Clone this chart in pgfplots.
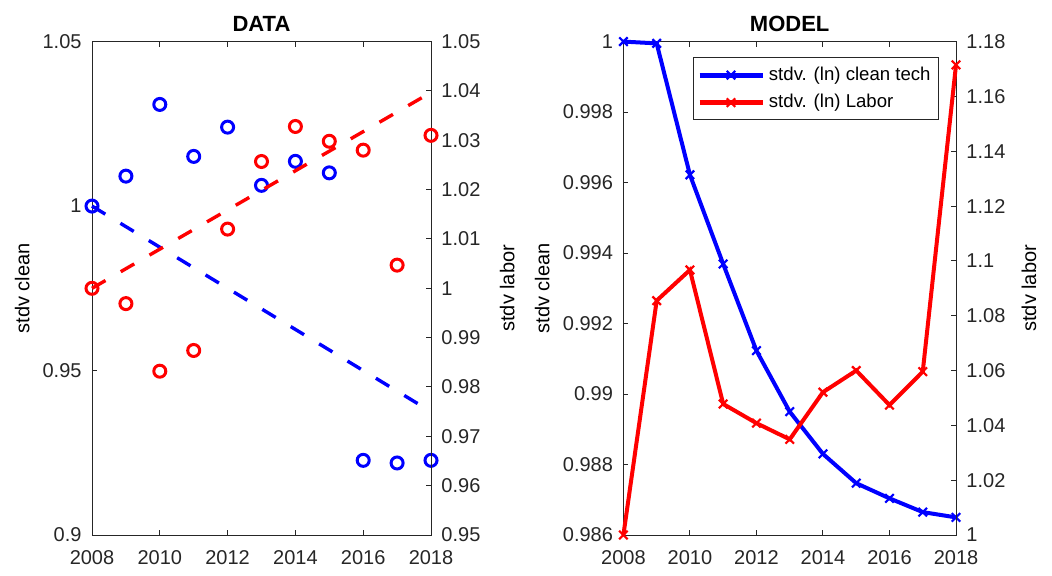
\documentclass[border=0pt]{standalone}
\usepackage{fontspec}
\setmainfont{Liberation Sans}
\usepackage{pgfplots}
\pgfplotsset{compat=1.18}
\definecolor{axgray}{gray}{0.15}
\pgfplotsset{
  base/.style={
    scale only axis, height=246.7pt, anchor=south west,
    xmin=2008, xmax=2018, xtick={2008,2010,2012,2014,2016,2018},
    xticklabels={2008,2010,2012,2014,2016,2018},
    tick align=inside, major tick length=2.5pt,
    axis line style={axgray, line width=0.5pt},
    every tick/.style={axgray, line width=0.5pt},
    tick label style={font=\fontsize{10}{12}\selectfont, text=axgray},
    xticklabel shift=4pt, yticklabel shift=1.7pt,
    /pgf/number format/assume math mode=true,
    label style={font=\fontsize{10}{12}\selectfont, text=black},
    scaled ticks=false, clip=false,
    every axis title shift=0pt,
    title style={at={(axis description cs:0.5,1)}, anchor=base, yshift=5pt,
      font=\bfseries\fontsize{11}{13}\selectfont},
  },
  circ/.style={only marks, mark=o, mark size=3pt, line width=1.5pt},
  dash/.style={no marks, line width=1.7pt, dash pattern=on 7.8pt off 8.8pt},
  xline/.style={line width=2pt, mark=x, mark size=3pt, mark options={line width=1.1pt, solid}},
}
\begin{document}
\begin{tikzpicture}
\path[use as bounding box] (0,0) rectangle (526pt,287.5pt);
% ---------- DATA panel ----------
\begin{axis}[base, at={(46pt,20pt)}, width=169.5pt,
  ymin=0.9, ymax=1.05, ytick={0.9,0.95,1,1.05}, yticklabels={0.9,0.95,1,1.05},
  ytick pos=left, xtick pos=both, title={DATA},
  ylabel={stdv clean},
  ylabel style={at={(axis description cs:0,0.5)}, anchor=south, yshift=27.7pt}]
\addplot[blue, circ] coordinates {
 (2008,1.0000) (2009,1.0091) (2010,1.0309) (2011,1.0151) (2012,1.0240)
 (2013,1.0063) (2014,1.0136) (2015,1.0101) (2016,0.9227) (2017,0.9219) (2018,0.9227)};
\addplot[blue, dash] coordinates {(2008,1.0) (2018,0.9375)};
\end{axis}
\begin{axis}[base, at={(46pt,20pt)}, width=169.5pt,
  axis x line=none, axis y line*=right,
  ymin=0.95, ymax=1.05,
  ytick={0.95,0.96,0.97,0.98,0.99,1,1.01,1.02,1.03,1.04,1.05},
  yticklabels={0.95,0.96,0.97,0.98,0.99,1,1.01,1.02,1.03,1.04,1.05},
  ylabel={stdv labor},
  ylabel style={at={(axis description cs:1,0.5)}, anchor=south, yshift=-45.3pt}]
\addplot[red, circ] coordinates {
 (2008,1.0000) (2009,0.9969) (2010,0.9832) (2011,0.9874) (2012,1.0120)
 (2013,1.0257) (2014,1.0328) (2015,1.0298) (2016,1.0280) (2017,1.0047) (2018,1.0310)};
\addplot[red, dash] coordinates {(2008,1.0) (2018,1.0397)};
\end{axis}
% ---------- MODEL panel ----------
\begin{axis}[base, at={(311.7pt,20pt)}, width=166.3pt,
  ymin=0.986, ymax=1,
  ytick={0.986,0.988,0.99,0.992,0.994,0.996,0.998,1},
  yticklabels={0.986,0.988,0.99,0.992,0.994,0.996,0.998,1},
  ytick pos=left, xtick pos=both, title={MODEL},
  ylabel={stdv clean},
  ylabel style={at={(axis description cs:0,0.5)}, anchor=south, yshift=33.4pt}]
\addplot[blue, xline] coordinates {
 (2008,1.00000) (2009,0.99995) (2010,0.99622) (2011,0.99369) (2012,0.99123)
 (2013,0.98950) (2014,0.98830) (2015,0.98747) (2016,0.98704) (2017,0.98665) (2018,0.98650)};
\end{axis}
\begin{axis}[base, at={(311.7pt,20pt)}, width=166.3pt,
  axis x line=none, axis y line*=right,
  ymin=1, ymax=1.18,
  ytick={1,1.02,1.04,1.06,1.08,1.1,1.12,1.14,1.16,1.18},
  yticklabels={1,1.02,1.04,1.06,1.08,1.1,1.12,1.14,1.16,1.18},
  ylabel={stdv labor},
  ylabel style={at={(axis description cs:1,0.5)}, anchor=south, yshift=-43.7pt},
  legend style={at={(0.949,0.968)}, anchor=north east, draw=axgray, line width=0.5pt,
    font=\fontsize{9.3}{11}\selectfont, inner xsep=2pt, inner ysep=2.5pt, row sep=1.5pt},
  legend cell align=left,
  legend image code/.code={\draw[mark repeat=2,mark phase=2,#1,line width=2.4pt]
     plot coordinates {(0pt,0pt) (15.75pt,0pt) (31.5pt,0pt)};}]
\addlegendimage{blue, xline}
\addlegendentry{stdv. (ln) clean tech}
\addplot[red, xline] coordinates {
 (2008,1.0000) (2009,1.0855) (2010,1.0967) (2011,1.0478) (2012,1.0408)
 (2013,1.0349) (2014,1.0521) (2015,1.0600) (2016,1.0474) (2017,1.0596) (2018,1.1715)};
\addlegendentry{stdv. (ln) Labor}
\end{axis}
\end{tikzpicture}
\end{document}
